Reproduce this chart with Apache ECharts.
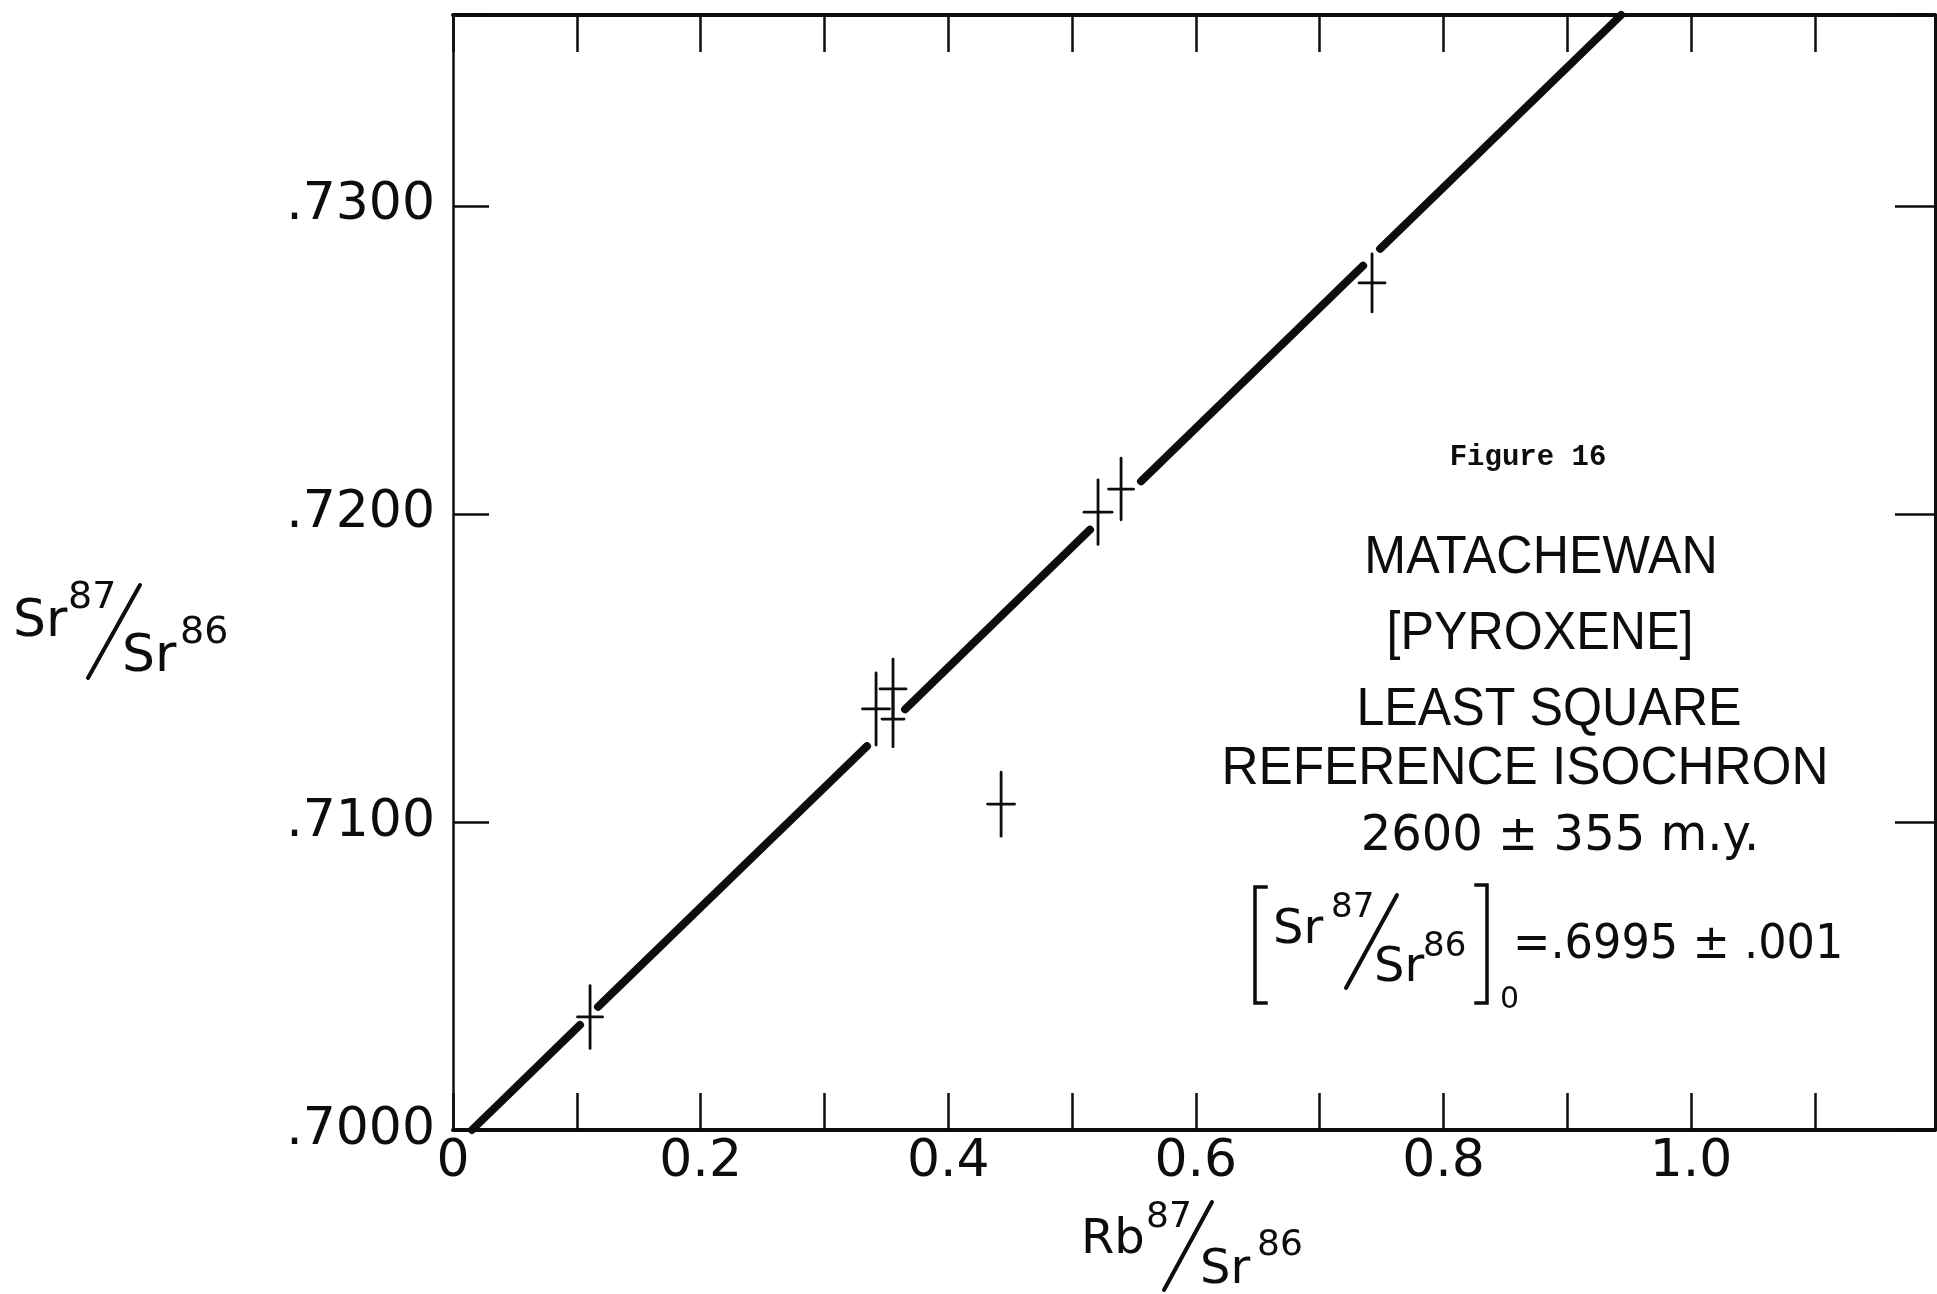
<!DOCTYPE html>
<html>
<head>
<meta charset="utf-8">
<script src="https://cdn.jsdelivr.net/npm/echarts@6/dist/echarts.min.js"></script>
<style>
html,body{margin:0;padding:0;background:#fff;}
#chart{width:1937px;height:1294px;}
</style>
</head>
<body>
<div id="chart"></div>
<script>
// ---------- DATA ----------
// Sample points: Rb87/Sr86 (x), Sr87/Sr86 (y) with error half-widths
const sampleX    = [0.1107, 0.3417, 0.3554, 0.3554, 0.4427, 0.5210, 0.5396, 0.7423];
const sampleY    = [0.70367, 0.71367, 0.71432, 0.71334, 0.71058, 0.72006, 0.72081, 0.72750];
const sampleXErr = [0.0101, 0.0109, 0.0105, 0.0089, 0.0109, 0.0113, 0.0101, 0.0105];
const sampleYErr = [0.00102, 0.00117, 0.00097, 0.00090, 0.00104, 0.00105, 0.00100, 0.00094];

// Reference isochron drawn as broken segments (gaps around the points)
const isoX1 = [0.0153, 0.1171, 0.3651, 0.5557, 0.7488];
const isoY1 = [0.70000, 0.70400, 0.71366, 0.72106, 0.72861];
const isoX2 = [0.1026, 0.3344, 0.5145, 0.7351, 0.9435];
const isoY2 = [0.70341, 0.71246, 0.71949, 0.72806, 0.73620];

// Tick labels
const xTickValues = [0, 0.2, 0.4, 0.6, 0.8, 1.0];
const xTickLabels = ['0', '0.2', '0.4', '0.6', '0.8', '1.0'];
const yTickValues = [0.70, 0.71, 0.72, 0.73];
const yTickLabels = ['.7000', '.7100', '.7200', '.7300'];

// Texts
const figureLabel = 'Figure 16';
const titleLines = ['MATACHEWAN', '[PYROXENE]', 'LEAST SQUARE', 'REFERENCE ISOCHRON'];
const ageText = '2600 ± 355 m.y.';
const initialRatioText = '=.6995 ± .001';

// ---------- CHART ----------
const INK = '#0d0d0d';
const ROUND = '"DejaVu Sans", "Noto Sans", sans-serif';
const LETTER = '"Liberation Sans", Arial, sans-serif';

function findLabel(v, values, labels) {
  for (let i = 0; i < values.length; i++) {
    if (Math.abs(v - values[i]) < 1e-7) return labels[i];
  }
  return '';
}

const chart = echarts.init(document.getElementById('chart'), null, {renderer: 'canvas'});

const isoData = isoX1.map((x, i) => [x, isoY1[i], isoX2[i], isoY2[i]]);
const ptData = sampleX.map((x, i) => [x, sampleY[i], sampleXErr[i], sampleYErr[i]]);

function txt(text, x, y, size, opts) {
  opts = opts || {};
  return {
    type: 'text', x: x, y: y, scaleX: opts.scaleX || 1, z: 10,
    style: {
      text: text,
      font: (opts.weight || 'normal') + ' ' + size + 'px ' + (opts.family || ROUND),
      fill: INK,
      textAlign: opts.align || 'left',
      textVerticalAlign: 'middle',
      align: opts.align || 'left',
      verticalAlign: 'middle'
    }
  };
}
function seg(x1, y1, x2, y2, w) {
  return {type: 'line', z: 10, shape: {x1, y1, x2, y2}, style: {stroke: INK, lineWidth: w || 4, lineCap: 'round'}};
}
function poly(points, w) {
  return {type: 'polyline', z: 10, shape: {points}, style: {stroke: INK, fill: null, lineWidth: w || 3.5, lineCap: 'square', lineJoin: 'miter'}};
}

const option = {
  backgroundColor: '#ffffff',
  animation: false,
  grid: {left: 453, right: 2, top: 15, bottom: 164, containLabel: false, outerBoundsMode: 'none'},
  xAxis: [{
    type: 'value', position: 'bottom', min: 0, max: 1.197, interval: 0.1,
    axisLine: {show: true, onZero: false, lineStyle: {color: INK, width: 4}},
    axisTick: {show: true, inside: true, length: 37, lineStyle: {color: INK, width: 2.5}},
    splitLine: {show: false},
    axisLabel: {show: true, margin: 6, color: INK, fontSize: 52, fontFamily: ROUND,
      showMinLabel: true, showMaxLabel: true, hideOverlap: false,
      formatter: v => findLabel(v, xTickValues, xTickLabels)}
  }, {
    type: 'value', position: 'top', min: 0, max: 1.197, interval: 0.1,
    axisLine: {show: true, onZero: false, lineStyle: {color: INK, width: 4}},
    axisTick: {show: true, inside: true, length: 37, lineStyle: {color: INK, width: 2.5}},
    splitLine: {show: false},
    axisLabel: {show: false}
  }],
  yAxis: [{
    type: 'value', position: 'left', min: 0.70, max: 0.7362, interval: 0.01,
    axisLine: {show: true, onZero: false, lineStyle: {color: INK, width: 2.5}},
    axisTick: {show: true, inside: true, length: 36, lineStyle: {color: INK, width: 2.5}},
    splitLine: {show: false},
    axisLabel: {show: true, margin: 18, color: INK, fontSize: 52, fontFamily: ROUND,
      showMinLabel: true, showMaxLabel: true, hideOverlap: false,
      formatter: v => findLabel(v, yTickValues, yTickLabels)}
  }, {
    type: 'value', position: 'right', min: 0.70, max: 0.7362, interval: 0.01,
    axisLine: {show: true, onZero: false, lineStyle: {color: INK, width: 3}},
    axisTick: {show: true, inside: true, length: 40, lineStyle: {color: INK, width: 2.5}},
    splitLine: {show: false},
    axisLabel: {show: false}
  }],
  series: [{
    type: 'custom', name: 'isochron', xAxisIndex: 0, yAxisIndex: 0, clip: false,
    data: isoData,
    renderItem: (params, api) => {
      const p1 = api.coord([api.value(0), api.value(1)]);
      const p2 = api.coord([api.value(2), api.value(3)]);
      return {type: 'line', shape: {x1: p1[0], y1: p1[1], x2: p2[0], y2: p2[1]},
        style: {stroke: INK, lineWidth: 8, lineCap: 'round', fill: null}};
    }
  }, {
    type: 'custom', name: 'samples', xAxisIndex: 0, yAxisIndex: 0, clip: false,
    data: ptData,
    renderItem: (params, api) => {
      const x = api.value(0), y = api.value(1), ex = api.value(2), ey = api.value(3);
      const l = api.coord([x - ex, y]), r = api.coord([x + ex, y]);
      const t = api.coord([x, y + ey]), b = api.coord([x, y - ey]);
      return {type: 'group', children: [
        {type: 'line', shape: {x1: l[0], y1: l[1], x2: r[0], y2: r[1]}, style: {stroke: INK, lineWidth: 2.8, lineCap: 'round'}},
        {type: 'line', shape: {x1: t[0], y1: t[1], x2: b[0], y2: b[1]}, style: {stroke: INK, lineWidth: 2.8, lineCap: 'round'}}
      ]};
    }
  }],
  graphic: [
    // y-axis name  Sr87/Sr86
    txt('Sr', 13, 622, 52),
    txt('87', 68, 598, 38),
    seg(140, 585, 88, 678, 4),
    txt('Sr', 122, 657, 52),
    txt('86', 180, 633, 38),
    // x-axis name  Rb87/Sr86
    txt('Rb', 1081, 1241, 48),
    txt('87', 1146, 1218, 36),
    seg(1212, 1202, 1164, 1290, 4),
    txt('Sr', 1200, 1271, 48),
    txt('86', 1257, 1246, 36),
    // annotation block
    txt(figureLabel, 1528, 458, 29, {align: 'center', family: '"Liberation Mono", "Courier New", monospace', weight: 'bold'}),
    txt(titleLines[0], 1541, 558, 54, {align: 'center', family: LETTER, scaleX: 0.93}),
    txt(titleLines[1], 1540, 634, 54, {align: 'center', family: LETTER, scaleX: 0.93}),
    txt(titleLines[2], 1549, 710, 54, {align: 'center', family: LETTER, scaleX: 0.93}),
    txt(titleLines[3], 1525, 769, 54, {align: 'center', family: LETTER, scaleX: 0.95}),
    txt(ageText, 1560, 837, 50, {align: 'center', scaleX: 0.96}),
    // [Sr87/Sr86]0 = .6995 ± .001
    poly([[1266, 887], [1255, 887], [1255, 1003], [1266, 1003]], 3.5),
    txt('Sr', 1273, 931, 48),
    txt('87', 1331, 908, 34),
    seg(1397, 895, 1346, 988, 4),
    txt('Sr', 1374, 969, 48),
    txt('86', 1423, 947, 34),
    poly([[1476, 885], [1487, 885], [1487, 1003], [1476, 1003]], 3.5),
    txt('0', 1500, 1000, 30),
    txt(initialRatioText, 1513, 946, 48, {scaleX: 0.93})
  ]
};
chart.setOption(option);
</script>
</body>
</html>
